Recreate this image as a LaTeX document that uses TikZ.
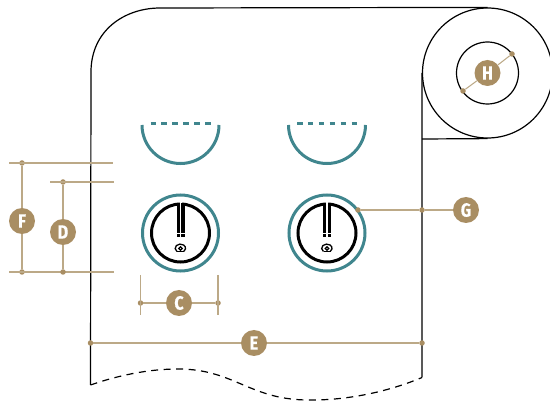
\documentclass[tikz,border=0pt]{standalone}
\usepackage{fontspec}
\newfontfamily\badgefont[FakeStretch=0.85,BoldFeatures={FakeBold=0.6}]{Fira Sans}
\usetikzlibrary{positioning}
\definecolor{tan}{HTML}{A98E63}
\definecolor{tanline}{HTML}{BCA987}
\definecolor{teal2}{HTML}{40868E}
\tikzset{
    paper/.style={draw=black,line width=1.2pt},
    dim/.style={draw=tanline,line width=1.05pt},
    tip/.style={circle,fill=tan,inner sep=0pt,minimum size=5.5pt},
    badge/.style={circle,fill=tan,text=white,inner sep=0pt,minimum size=26pt,font=\badgefont\bfseries\fontsize{19}{19}\selectfont},
    dial/.style={circle,draw=teal2,line width=3pt,inner sep=0pt,minimum size=76pt},
    ring/.style={circle,draw=black,line width=3pt,inner sep=0pt,minimum size=58pt},
}
\begin{document}
\begin{tikzpicture}[x=1pt,y=-1pt]
    \useasboundingbox (0,0) rectangle (550,401);
    % sheet and roll
    \coordinate (rollc) at (487.5,73);
    \node [circle,paper,inner sep=0pt,minimum size=130pt] (roll) at (rollc) {};
    \node [circle,paper,inner sep=0pt,minimum size=62pt] (core) at (rollc) {};
    \coordinate (bl) at (90.5,385);
    \coordinate (br) at (422,377.5);
    \draw [paper] (bl) -- (91,72) .. controls (91,30) and (125,8) .. (160,8) -- (roll.north);
    \draw [paper] (roll.west) -- (br);
    \draw [paper] (422,139) -- (roll.south);
    \draw [paper,dash pattern=on 7pt off 5.5pt] (bl) .. controls (125,373) and (155,369) .. (178,369)
        .. controls (235,369) and (250,401) .. (312,400) .. controls (350,400) and (390,391) .. (br);
    % windows and dials
    \foreach \cx/\nm in {180.5/a,327/b} {
        \draw [teal2,line width=3pt] (\cx-38.5,125) arc [start angle=180,end angle=0,radius=38.5];
        \draw [teal2,line width=3pt,dash pattern=on 5.5pt off 5.4pt] (\cx-30,124) -- (\cx+32,124);
        \node [dial] (dial\nm) at (\cx,233) {};
        \node [ring] (ring\nm) at (\cx,233) {};
        \fill [white] (\cx-1,201) rectangle (\cx+1,206);
        \draw [black,line width=3.2pt] (\cx-2.4,203) -- (\cx-2.4,237.5);
        \draw [black,line width=3.2pt] (\cx+2.4,203) -- (\cx+2.4,237.5);
        \draw [white,line width=.8pt] (\cx-5,233.5) -- (\cx+5,233.5);
        \draw [black,line width=1.3pt] (\cx-3.5,251.5) arc [start angle=130,end angle=410,x radius=5.2,y radius=4.2];
        \draw [black,line width=1.3pt] (\cx-3.5,251.5) -- (\cx+3.5,251.5);
        \draw [black,line width=1.3pt] (\cx,248.5) circle [radius=1.8];
    }
    % dimension F
    \node [tip] (ftop) at (22,163) {};
    \node [tip] (fbot) at (22,272) {};
    \node [badge] (f) at (22,221) {F};
    \coordinate (fl) at (9,163);
    \coordinate (fr) at (113,163);
    \coordinate (bll) at (9,272);
    \coordinate (blr) at (114,272);
    \draw [dim] (fl) -- (fr);
    \draw [dim] (bll) -- (blr);
    \draw [dim] (ftop) -- (f);
    \draw [dim] (f) -- (fbot);
    % dimension D
    \node [tip] (dtop) at (63,182) {};
    \node [tip] (dbot) at (63,272) {};
    \node [badge] (d) at (63,232) {D};
    \coordinate (dl) at (50,182);
    \coordinate (dr) at (114,182);
    \draw [dim] (dl) -- (dr);
    \draw [dim] (dtop) -- (d);
    \draw [dim] (d) -- (dbot);
    % dimension C
    \node [tip] (cl) at (140.5,303) {};
    \node [tip] (cr) at (218,303) {};
    \node [badge] (c) at (179,303) {C};
    \coordinate (clt) at (140.5,275);
    \coordinate (clb) at (140.5,315);
    \coordinate (crt) at (218,275);
    \coordinate (crb) at (218,315);
    \draw [dim] (clt) -- (clb);
    \draw [dim] (crt) -- (crb);
    \draw [dim] (cl) -- (c);
    \draw [dim] (c) -- (cr);
    % dimension E
    \node [tip] (el) at (90.5,343) {};
    \node [tip] (er) at (422,343) {};
    \node [badge] (e) at (254,343) {E};
    \draw [dim] (el) -- (e);
    \draw [dim] (e) -- (er);
    % dimension G
    \node [tip] (gl) at (358,210) {};
    \node [tip] (gm) at (422,210) {};
    \node [badge] (g) at (466,210) {G};
    \draw [dim] (gl) -- (gm);
    \draw [dim] (gm) -- (g);
    % dimension H
    \node [tip] (hl) at (463,91) {};
    \node [tip] (hr) at (512,54) {};
    \node [badge] (h) at (rollc) {H};
    \draw [dim] (hl) -- (h);
    \draw [dim] (h) -- (hr);
\end{tikzpicture}
\end{document}
